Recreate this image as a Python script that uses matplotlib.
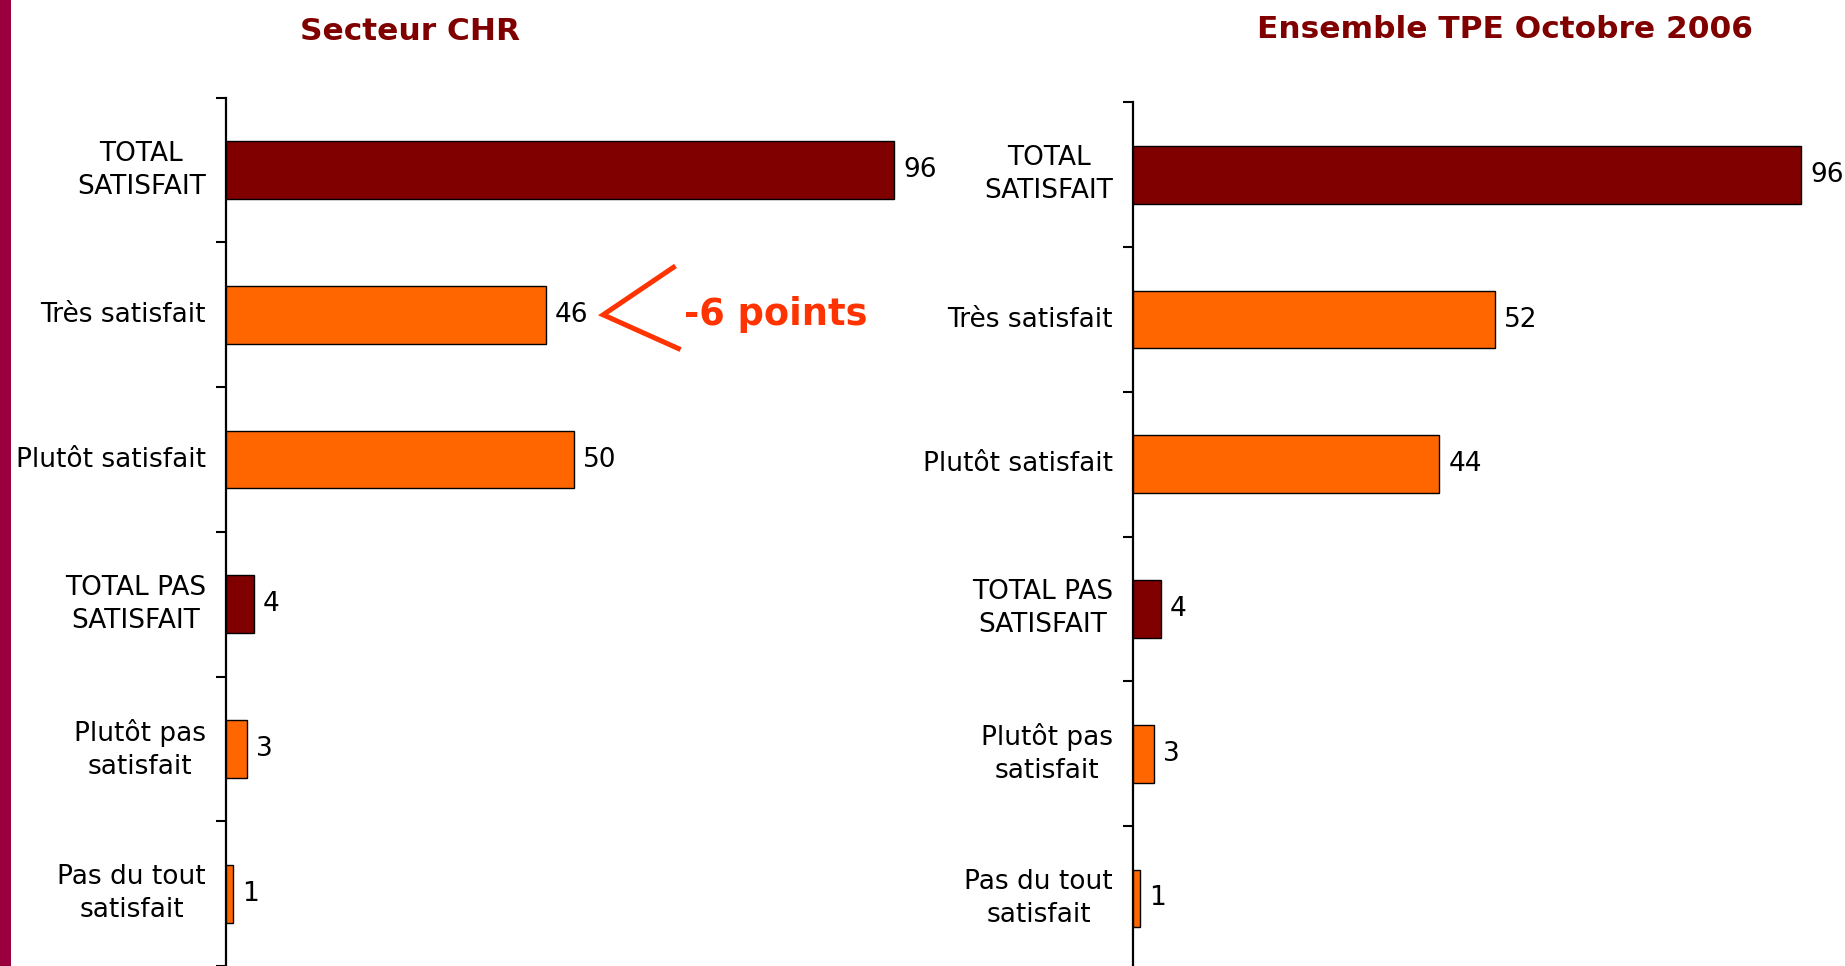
import matplotlib
matplotlib.use("Agg")
import matplotlib.pyplot as plt
from matplotlib.patches import Rectangle

# ---- data ----
categories = ["TOTAL\nSATISFAIT", "Très satisfait", "Plutôt satisfait",
              "TOTAL PAS\nSATISFAIT", "Plutôt pas\nsatisfait", "Pas du tout\nsatisfait"]
chr_values = [96, 46, 50, 4, 3, 1]
tpe_values = [96, 52, 44, 4, 3, 1]
is_total = [True, False, False, True, False, False]
titles = ["Secteur CHR", "Ensemble TPE Octobre 2006"]
annotation_text = "-6 points"

DARK = "#800000"
ORANGE = "#FF6600"
ANNOT = "#FF3300"
STRIP = "#99003D"

W, H = 1845, 966
fig = plt.figure(figsize=(W / 100, H / 100), dpi=100)
fig.patch.set_facecolor("white")

# left decorative strip
fig.patches.append(Rectangle((0, 0), 11 / W, 1, transform=fig.transFigure,
                             facecolor=STRIP, edgecolor="none", zorder=0))

step = 144.74           # px per category
xscale = 6.96           # px per unit
xmax = 100
ax_w = xmax * xscale / W
ax_h = 6 * step / H

panels = [
    dict(left=225.9, top=97.7, values=chr_values, title=titles[0], tx=410, tbase=40),
    dict(left=1133.1, top=102.4, values=tpe_values, title=titles[1], tx=1505, tbase=37.5),
]

FS = 19
axes = []
for p in panels:
    bottom = 1 - (p["top"] + 6 * step) / H
    ax = fig.add_axes([p["left"] / W, bottom, ax_w, ax_h])
    axes.append(ax)
    ypos = list(range(len(categories)))
    colors = [DARK if t else ORANGE for t in is_total]
    bars = ax.barh(ypos, p["values"], height=0.4, color=colors,
                   edgecolor="black", linewidth=1.0, zorder=3)
    ax.bar_label(bars, labels=[str(v) for v in p["values"]], padding=6.5,
                 fontsize=FS, color="black", clip_on=False)
    ax.set_xlim(0, xmax)
    ax.set_ylim(len(categories) - 0.5, -0.5)
    for s in ["top", "right", "bottom"]:
        ax.spines[s].set_visible(False)
    ax.spines["left"].set_linewidth(1.6)
    ax.spines["left"].set_color("black")
    ax.set_xticks([])
    ax.set_yticks(ypos)
    ax.set_yticklabels(categories, fontsize=FS, color="black",
                       multialignment="center", va="center", linespacing=1.35)
    ax.tick_params(axis="y", which="major", length=0, pad=14.5)
    ax.set_yticks([i - 0.5 for i in range(len(categories) + 1)], minor=True)
    ax.tick_params(axis="y", which="minor", length=7, width=1.5, direction="out")
    ax.patch.set_alpha(0)
    fig.text(p["tx"] / W, 1 - p["tbase"] / H, p["title"], fontsize=22.5,
             fontweight="bold", color=DARK, ha="center", va="baseline")

# annotation on left panel (chevron + text) next to "Très satisfait"
ax = axes[0]
ax.plot([64.3, 54.2, 65.0], [1 - 0.328, 1.0, 1 + 0.233], color=ANNOT,
        linewidth=3.6, solid_joinstyle="miter", clip_on=False, zorder=4)
ax.text(65.8, 1.0, annotation_text, fontsize=26.5, fontweight="bold",
        color=ANNOT, ha="left", va="center", clip_on=False)

fig.savefig("out.png", dpi=100)
